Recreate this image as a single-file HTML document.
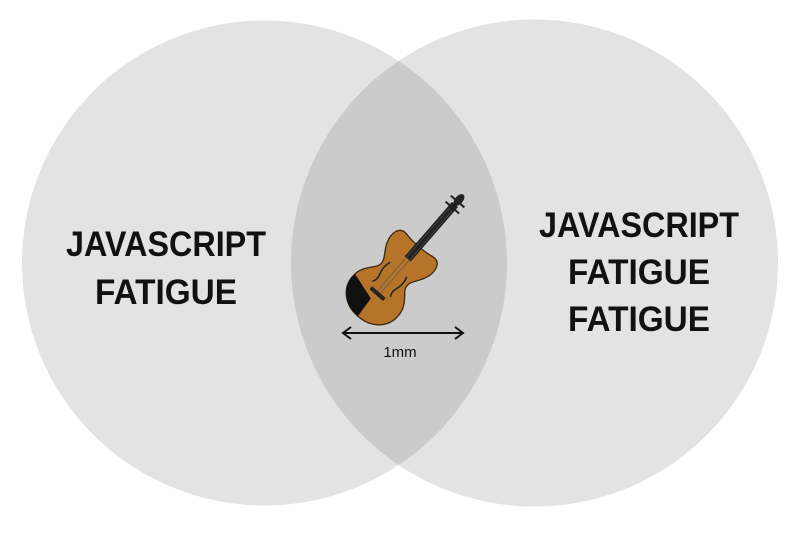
<!DOCTYPE html>
<html><head><style>html,body{margin:0;padding:0;background:#fff}svg{display:block}</style></head>
<body>
<svg width="800" height="533" viewBox="0 0 800 533" xmlns="http://www.w3.org/2000/svg">
<circle cx="264.5" cy="263" r="242.5" fill="#e3e3e3"/>
<circle cx="534.5" cy="263" r="243.5" fill="#e3e3e3"/>
<clipPath id="c"><circle cx="264.5" cy="263" r="242.5"/></clipPath>
<circle cx="534.5" cy="263" r="243.5" fill="#cbcbcb" clip-path="url(#c)"/>
<g font-family="Liberation Sans, sans-serif" font-weight="bold" font-size="35" fill="#111" text-anchor="middle">
<text x="166" y="256" textLength="200" lengthAdjust="spacingAndGlyphs">JAVASCRIPT</text>
<text x="166" y="304" textLength="142" lengthAdjust="spacingAndGlyphs">FATIGUE</text>
<text x="639" y="237" textLength="200" lengthAdjust="spacingAndGlyphs">JAVASCRIPT</text>
<text x="639" y="284" textLength="142" lengthAdjust="spacingAndGlyphs">FATIGUE</text>
<text x="639" y="331" textLength="142" lengthAdjust="spacingAndGlyphs">FATIGUE</text>
</g>
<g transform="translate(392,277) rotate(41)">
<path d="M-17,-42 C-28,-44 -30,-32 -26,-22 C-23,-14 -17,-10 -17,-3 C-17,4 -28,8 -30,22 C-32,40 -18,52 0,52 C18,52 32,40 30,22 C28,8 17,4 17,-3 C17,-10 23,-14 26,-22 C30,-32 28,-44 17,-42 C8,-40 -8,-40 -17,-42 Z" fill="#b5742a" stroke="#3a2a10" stroke-width="1.3"/>
<path d="M-30,22 C-32,40 -18,52 0,52 L-2,30 Z" fill="#111"/>
<rect x="-4" y="-96" width="8" height="72" fill="#222"/>
<line x1="-2" y1="-90" x2="-2" y2="25" stroke="#555" stroke-width="0.6"/>
<line x1="2" y1="-90" x2="2" y2="25" stroke="#555" stroke-width="0.6"/>
<rect x="-9" y="20" width="18" height="4" fill="#222"/>
<path d="M-11,-10 q-3,8 0,16 q2,6 -1,10" stroke="#222" fill="none" stroke-width="1.5"/>
<path d="M11,-10 q3,8 0,16 q-2,6 1,10" stroke="#222" fill="none" stroke-width="1.5"/>
<ellipse cx="0" cy="-102" rx="4" ry="7" fill="#222"/>
<line x1="-9" y1="-92" x2="9" y2="-92" stroke="#222" stroke-width="2"/>
<line x1="-9" y1="-100" x2="9" y2="-100" stroke="#222" stroke-width="2"/>
</g>
<g stroke="#111" stroke-width="2" fill="none">
<line x1="343" y1="333" x2="463" y2="333"/>
<polyline points="351,327 343,333 351,339"/>
<polyline points="455,327 463,333 455,339"/>
</g>
<text x="400" y="357" font-family="Liberation Sans, sans-serif" font-size="15" fill="#111" text-anchor="middle">1mm</text>
</svg>
</body></html>
